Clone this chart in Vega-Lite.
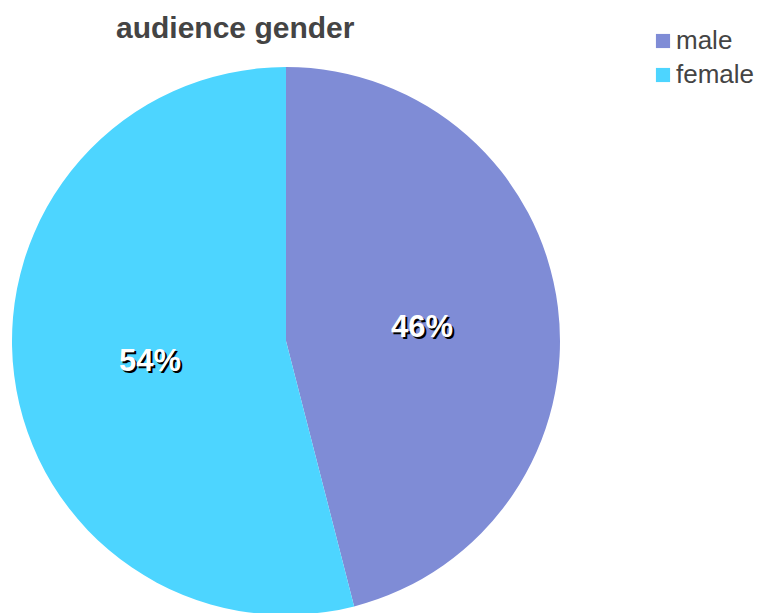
{
  "$schema": "https://vega.github.io/schema/vega-lite/v6.json",
  "width": 548,
  "height": 548,
  "autosize": {"type": "none"},
  "padding": {"left": 12, "top": 67, "right": 198, "bottom": 0},
  "background": "white",
  "title": {
    "text": "audience gender",
    "anchor": "start",
    "frame": "group",
    "dx": 104,
    "offset": -16,
    "fontSize": 30,
    "fontWeight": "bold",
    "font": "Liberation Sans",
    "color": "#444444"
  },
  "config": {"view": {"stroke": null}},
  "data": {
    "values": [
      {"gender": "male", "share": 46, "label": "46%"},
      {"gender": "female", "share": 54, "label": "54%"}
    ]
  },
  "encoding": {
    "theta": {"field": "share", "type": "quantitative", "stack": true},
    "order": {"field": "gender", "sort": "descending"}
  },
  "layer": [
    {
      "mark": {"type": "arc", "outerRadius": 274, "stroke": null},
      "encoding": {
        "color": {
          "field": "gender",
          "type": "nominal",
          "scale": {"domain": ["male", "female"], "range": ["#7F8CD6", "#4DD5FF"]},
          "legend": {
            "title": null,
            "orient": "none",
            "legendX": 638,
            "legendY": -39,
            "symbolType": "square",
            "symbolSize": 200,
            "symbolStrokeWidth": 0,
            "labelFontSize": 26,
            "labelFont": "Liberation Sans",
            "labelColor": "#444444",
            "labelOffset": 0,
            "rowPadding": 8
          }
        }
      }
    },
    {
      "mark": {"type": "text", "radius": 137, "fontSize": 31, "fontWeight": "bold", "font": "Liberation Sans", "fill": "black", "dx": 2, "dy": 6},
      "encoding": {"text": {"field": "label"}}
    },
    {
      "mark": {"type": "text", "radius": 137, "fontSize": 31, "fontWeight": "bold", "font": "Liberation Sans", "fill": "white", "dy": 4},
      "encoding": {"text": {"field": "label"}}
    }
  ]
}
